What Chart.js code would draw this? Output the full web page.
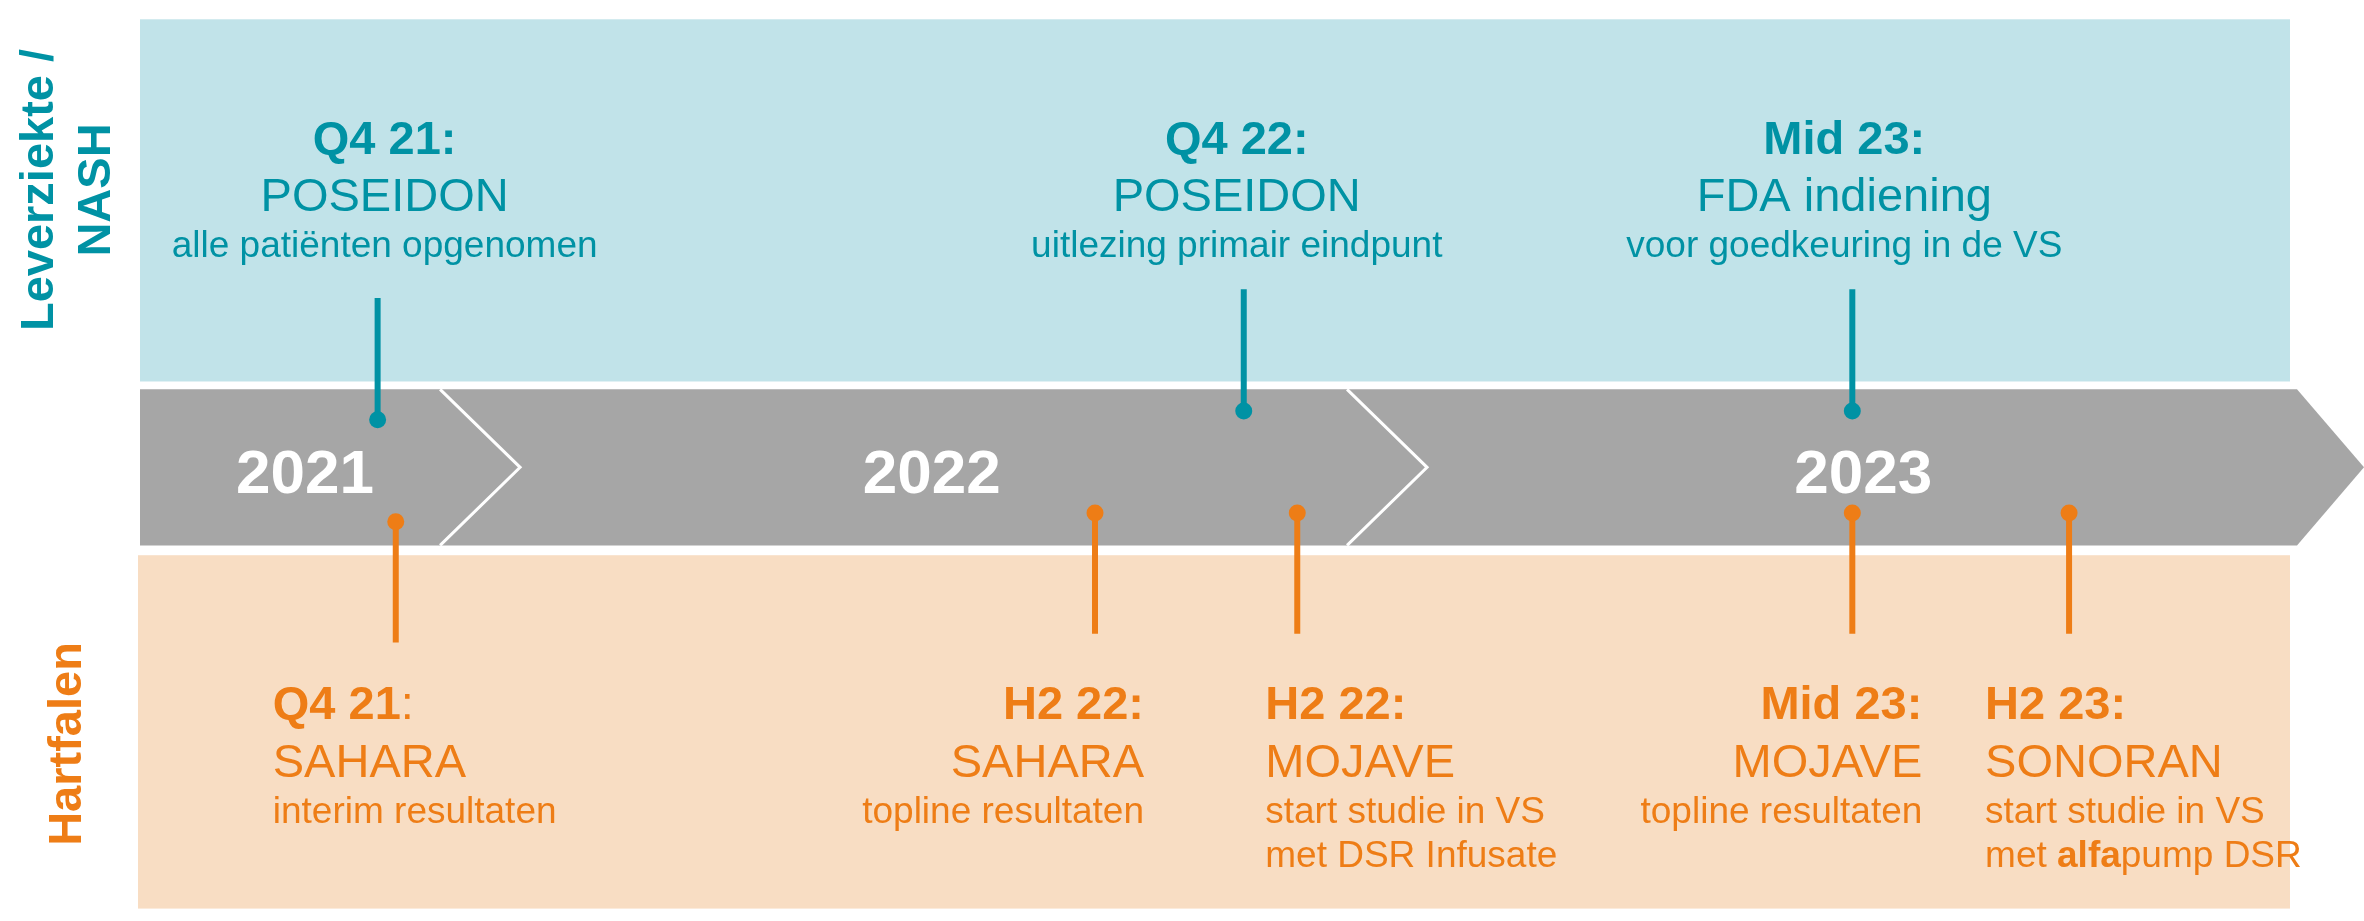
<!DOCTYPE html>
<html><head><meta charset="utf-8">
<script src="https://cdn.jsdelivr.net/npm/chart.js@4/dist/chart.umd.min.js"></script>
<style>html,body{margin:0;padding:0;background:#fff;overflow:hidden}#wrap{width:2364px;height:921px;position:relative}</style>
</head><body><div id="wrap"><canvas id="c"></canvas></div>
<script>
// ---------- DATA ----------
const years = ['2021', '2022', '2023'];
const yearLabelAt = [2021.807, 2022.498, 2023.525];   // where each year label sits on the time axis
const yearBoundaries = [2022, 2023];
const timelineStart = 2021.625;
const timelineEnd = 2024;

const laneNames = [['Leverziekte /', 'NASH'], ['Hartfalen']];

// Leverziekte / NASH milestones
const nashDates = [2021.887, 2022.842, 2023.513];
const nashWhen = ['**Q4 21:**', '**Q4 22:**', '**Mid 23:**'];
const nashWhat = ['POSEIDON', 'POSEIDON', 'FDA indiening'];
const nashDetail = [['alle patiënten opgenomen'], ['uitlezing primair eindpunt'], ['voor goedkeuring in de VS']];

// Hartfalen milestones
const hfDates = [2021.907, 2022.678, 2022.901, 2023.513, 2023.752];
const hfWhen = ['**Q4 21**:', '**H2 22:**', '**H2 22:**', '**Mid 23:**', '**H2 23:**'];
const hfWhat = ['SAHARA', 'SAHARA', 'MOJAVE', 'MOJAVE', 'SONORAN'];
const hfDetail = [['interim resultaten'], ['topline resultaten'], ['start studie in VS', 'met DSR Infusate'], ['topline resultaten'], ['start studie in VS', 'met **alfa**pump DSR']];

// ---------- STYLE / LAYOUT ----------
const TEAL = '#0092A4', ORANGE = '#EE7D16', BLUEBG = '#C1E3E9', GREY = '#A6A6A6', PEACH = '#F8DDC3';
const FONT = '"Liberation Sans", Arial, Helvetica, sans-serif';
const L = {
  blueBand: [11, 380], greyBand: [388, 547], peachBand: [557, 917], bandRight: 2290, arrowTip: 2364, chevron: 40,
  nash: { stem: [286, 410], shift: [9, 0, 0], dx: [7, -7, -8], align: ['center', 'center', 'center'], base: [154, 211, 257], line2: 44 },
  hf: { stem: [514, 637], shift: [9, 0, 0, 0, 0], dx: [-123, 49, -32, 70, -84], align: ['left', 'right', 'left', 'right', 'left'], base: [719, 777, 823], line2: 44 },
  yearBase: 493, yearSize: 62
};

function stemSets(dates, cfg, color, dotAtEnd) {
  return dates.map((t, i) => ({
    data: [{ x: t, y: cfg.stem[0] + cfg.shift[i] }, { x: t, y: cfg.stem[1] + cfg.shift[i] }],
    borderColor: color, backgroundColor: color, borderWidth: 6,
    pointRadius: dotAtEnd ? [0, 8.5] : [8.5, 0], pointBorderWidth: 0, pointHoverRadius: 0,
    fill: false, tension: 0
  }));
}

function drawRich(ctx, str, x, y, size, align, color) {
  const segs = str.split('**').map((s, i) => ({ s, bold: i % 2 === 1 })).filter(p => p.s.length);
  let total = 0;
  segs.forEach(p => { ctx.font = (p.bold ? 'bold ' : '') + size + 'px ' + FONT; p.w = ctx.measureText(p.s).width; total += p.w; });
  let cx = align === 'center' ? x - total / 2 : align === 'right' ? x - total : x;
  ctx.textAlign = 'left'; ctx.textBaseline = 'alphabetic'; ctx.fillStyle = color;
  segs.forEach(p => { ctx.font = (p.bold ? 'bold ' : '') + size + 'px ' + FONT; ctx.fillText(p.s, cx, y); cx += p.w; });
}

const backdrop = {
  id: 'backdrop',
  beforeDatasetsDraw(chart) {
    const { ctx, chartArea, scales: { x, y } } = chart;
    const left = chartArea.left;
    ctx.save();
    ctx.fillStyle = BLUEBG;
    ctx.fillRect(left, y.getPixelForValue(L.blueBand[0]), L.bandRight - left, y.getPixelForValue(L.blueBand[1]) - y.getPixelForValue(L.blueBand[0]));
    ctx.fillStyle = PEACH;
    ctx.fillRect(left - 2, y.getPixelForValue(L.peachBand[0]), L.bandRight - left + 2, y.getPixelForValue(L.peachBand[1]) - y.getPixelForValue(L.peachBand[0]));
    // grey arrow
    const gt = y.getPixelForValue(L.greyBand[0]), gb = y.getPixelForValue(L.greyBand[1]), gm = (gt + gb) / 2;
    const xr = x.getPixelForValue(timelineEnd) + 3;
    ctx.fillStyle = GREY;
    ctx.beginPath();
    ctx.moveTo(left, gt); ctx.lineTo(xr, gt); ctx.lineTo(L.arrowTip, gm); ctx.lineTo(xr, gb); ctx.lineTo(left, gb); ctx.closePath();
    ctx.fill();
    // chevrons
    ctx.strokeStyle = '#fff'; ctx.lineWidth = 3; ctx.lineJoin = 'miter';
    yearBoundaries.forEach(b => {
      const bx = x.getPixelForValue(b);
      ctx.beginPath();
      ctx.moveTo(bx - L.chevron, gt); ctx.lineTo(bx + L.chevron, gm); ctx.lineTo(bx - L.chevron, gb);
      ctx.stroke();
    });
    // year labels
    ctx.fillStyle = '#fff'; ctx.textAlign = 'center'; ctx.textBaseline = 'alphabetic';
    ctx.font = 'bold ' + L.yearSize + 'px ' + FONT;
    years.forEach((yr, i) => ctx.fillText(yr, x.getPixelForValue(yearLabelAt[i]), L.yearBase));
    ctx.restore();
  },
  afterDatasetsDraw(chart) {
    const { ctx, scales: { x } } = chart;
    ctx.save();
    // lane labels (rotated)
    const lane = (lines, color, cy, baseXs) => {
      lines.forEach((t, i) => {
        ctx.save(); ctx.translate(baseXs[i], cy); ctx.rotate(-Math.PI / 2);
        ctx.font = 'bold 47px ' + FONT; ctx.fillStyle = color; ctx.textAlign = 'center'; ctx.textBaseline = 'alphabetic';
        ctx.fillText(t, 0, 0); ctx.restore();
      });
    };
    lane(laneNames[0], TEAL, 190, [53, 110]);
    lane(laneNames[1], ORANGE, 744, [81]);
    // NASH texts
    nashDates.forEach((t, i) => {
      const px = x.getPixelForValue(t) + L.nash.dx[i], a = L.nash.align[i];
      drawRich(ctx, nashWhen[i], px, L.nash.base[0], 47, a, TEAL);
      drawRich(ctx, nashWhat[i], px, L.nash.base[1], 47, a, TEAL);
      nashDetail[i].forEach((d, j) => drawRich(ctx, d, px, L.nash.base[2] + j * L.nash.line2, 37, a, TEAL));
    });
    // Hartfalen texts
    hfDates.forEach((t, i) => {
      const px = x.getPixelForValue(t) + L.hf.dx[i], a = L.hf.align[i];
      drawRich(ctx, hfWhen[i], px, L.hf.base[0], 47, a, ORANGE);
      drawRich(ctx, hfWhat[i], px, L.hf.base[1], 47, a, ORANGE);
      hfDetail[i].forEach((d, j) => drawRich(ctx, d, px, L.hf.base[2] + j * L.hf.line2, 37, a, ORANGE));
    });
    ctx.restore();
  }
};

new Chart(document.getElementById('c'), {
  type: 'line',
  data: { datasets: [...stemSets(nashDates, L.nash, TEAL, true), ...stemSets(hfDates, L.hf, ORANGE, false)] },
  options: {
    responsive: true, maintainAspectRatio: false, animation: false,
    layout: { padding: { left: 140, right: 70, top: 0, bottom: 0 } },
    plugins: { legend: { display: false }, tooltip: { enabled: false } },
    events: [],
    scales: {
      x: { type: 'linear', min: timelineStart, max: timelineEnd, display: false },
      y: { type: 'linear', min: 0, max: 921, reverse: true, display: false }
    }
  },
  plugins: [backdrop]
});
</script>
</body></html>
